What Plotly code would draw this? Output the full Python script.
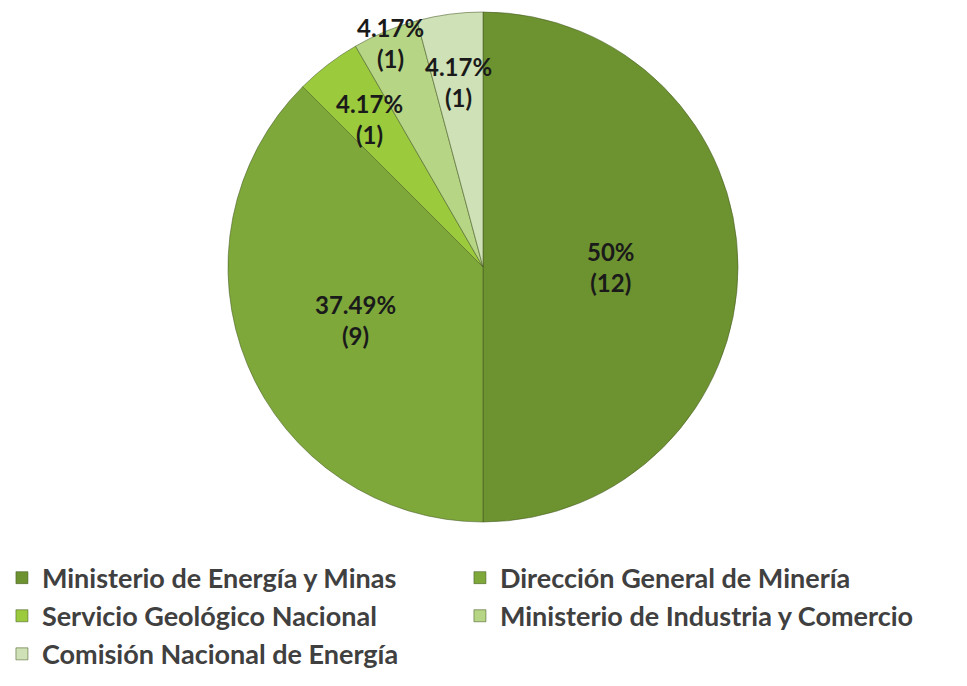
import math
import plotly.graph_objects as go

categories = [
    "Ministerio de Energía y Minas",
    "Dirección General de Minería",
    "Servicio Geológico Nacional",
    "Ministerio de Industria y Comercio",
    "Comisión Nacional de Energía",
]
counts = [12, 9, 1, 1, 1]
pct_labels = ["50%", "37.49%", "4.17%", "4.17%", "4.17%"]

colors = ["#6d9230", "#7ea83a", "#9bcb3c", "#b6d585", "#cfe1b6"]
label_radius = [0.50, 0.54, 0.73, 0.95, 0.73]

W, H = 967, 686
R = 255
cx_px, cy_px = 483, 267
dom_x = [(cx_px - R) / W, (cx_px + R) / W]
dom_y = [(H - (cy_px + R)) / H, (H - (cy_px - R)) / H]

fig = go.Figure()
fig.add_trace(go.Pie(
    labels=categories,
    values=counts,
    sort=False,
    direction="clockwise",
    rotation=0,
    textinfo="none",
    hoverinfo="label+value+percent",
    marker=dict(colors=colors, line=dict(color="rgba(70,90,35,0.55)", width=1)),
    domain=dict(x=dom_x, y=dom_y),
))

# data labels placed at slice mid-angles computed from the values
total = sum(counts)
cx = (dom_x[0] + dom_x[1]) / 2
cy = (dom_y[0] + dom_y[1]) / 2
rx = R / W
ry = R / H
cum = 0
for v, p, f in zip(counts, pct_labels, label_radius):
    mid = (cum + v / 2) / total * 2 * math.pi
    cum += v
    fig.add_annotation(
        x=cx + f * rx * math.sin(mid),
        y=cy + f * ry * math.cos(mid),
        xref="paper", yref="paper",
        xanchor="center", yanchor="middle",
        text=f"{p}<br>({v})",
        showarrow=False,
        font=dict(family="Lato", size=24, color="#1a1a1a", weight="bold"),
        align="center",
    )

fig.update_layout(
    width=W, height=H,
    margin=dict(l=0, r=0, t=0, b=0),
    paper_bgcolor="white",
    plot_bgcolor="white",
    showlegend=True,
    legend=dict(
        orientation="h",
        x=0.002, xanchor="left",
        y=0.193, yanchor="top",
        entrywidth=413,
        font=dict(family="Lato", size=27, color="#404040", weight="bold"),
        traceorder="normal",
    ),
)

fig.write_html("out.html")
